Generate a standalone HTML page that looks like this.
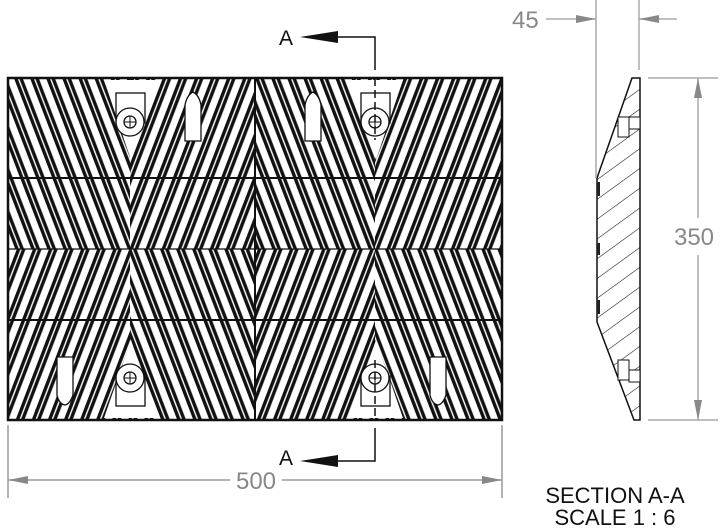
<!DOCTYPE html>
<html><head><style>body{margin:0;background:#fff}svg{display:block}</style></head><body>
<svg width="726" height="529" viewBox="0 0 726 529" xmlns="http://www.w3.org/2000/svg" font-family="Liberation Sans, sans-serif">
<defs>
<pattern id="s" width="15" height="40" patternUnits="userSpaceOnUse">
<rect x="0" y="0" width="3.4" height="40" fill="#111"/><rect x="4.8" y="0" width="3.4" height="40" fill="#111"/>
</pattern>
<pattern id="bs" href="#s" patternTransform="rotate(-21)"/>
<pattern id="fs" href="#s" patternTransform="rotate(21)"/>
<pattern id="h" width="16" height="16" patternUnits="userSpaceOnUse" patternTransform="rotate(-36)"><rect width="16" height="16" fill="#fff"/><line x1="0" y1="0" x2="16" y2="0" stroke="#222" stroke-width="1.2"/></pattern>
</defs>
<rect x="8" y="78" width="122" height="171" fill="url(#bs)"/>
<rect x="130" y="78" width="125" height="171" fill="url(#fs)"/>
<rect x="255" y="78" width="120" height="171" fill="url(#bs)"/>
<rect x="375" y="78" width="127" height="171" fill="url(#fs)"/>
<rect x="8" y="249" width="122" height="171" fill="url(#fs)"/>
<rect x="130" y="249" width="125" height="171" fill="url(#bs)"/>
<rect x="255" y="249" width="120" height="171" fill="url(#fs)"/>
<rect x="375" y="249" width="127" height="171" fill="url(#bs)"/>
<g fill="#fff">
<polygon points="104,80 158,80 131,160"/><polygon points="349,80 403,80 376,160"/>
<polygon points="104,418 158,418 131,340"/><polygon points="349,418 403,418 376,340"/>
</g>
<g stroke="#111" fill="none">
<rect x="8" y="78" width="494" height="342" stroke-width="2.5"/>
<line x1="8" y1="178" x2="502" y2="178" stroke-width="2"/>
<line x1="8" y1="249" x2="502" y2="249" stroke-width="1.2"/>
<line x1="8" y1="320" x2="502" y2="320" stroke-width="2"/>
<line x1="255" y1="78" x2="255" y2="420" stroke-width="2"/>
</g>
<g stroke="#111" fill="#fff" stroke-width="1.3">
<rect x="116" y="93" width="29" height="30"/><circle cx="130" cy="122" r="14"/><circle cx="130" cy="122" r="6"/>
<rect x="361" y="93" width="29" height="30"/><circle cx="375" cy="122" r="14"/><circle cx="375" cy="122" r="6"/>
<rect x="116" y="376" width="29" height="30"/><circle cx="130" cy="378" r="14"/><circle cx="130" cy="378" r="6"/>
<rect x="361" y="376" width="29" height="30"/><circle cx="375" cy="378" r="14"/><circle cx="375" cy="378" r="6"/>
<path d="M185,141 L185,105 Q187,95 193,92 Q199,95 201,105 L201,141 Z"/>
<path d="M305,141 L305,105 Q307,95 313,92 Q319,95 321,105 L321,141 Z"/>
<path d="M57,357 L73,357 L73,395 Q70,404 65,405 Q59,404 57,395 Z"/>
<path d="M430,357 L446,357 L446,395 Q443,404 438,405 Q432,404 430,395 Z"/>
</g>
<g stroke="#111" stroke-width="1"><line x1="130" y1="116" x2="130" y2="128"/><line x1="124" y1="122" x2="136" y2="122"/><line x1="375" y1="116" x2="375" y2="128"/><line x1="369" y1="122" x2="381" y2="122"/><line x1="130" y1="372" x2="130" y2="384"/><line x1="124" y1="378" x2="136" y2="378"/><line x1="375" y1="372" x2="375" y2="384"/><line x1="369" y1="378" x2="381" y2="378"/></g>
<g stroke="#111" stroke-width="1.5" fill="none">
<polyline points="330,37 375,37 375,70"/><line x1="375" y1="78" x2="375" y2="140" stroke-dasharray="8,4"/>
<polyline points="330,461 375,461 375,428"/><line x1="375" y1="360" x2="375" y2="420" stroke-dasharray="8,4"/>
</g>
<polygon points="300,37 338,31 338,43" fill="#111"/><polygon points="300,461 338,455 338,467" fill="#111"/>
<text x="279" y="45" font-size="21" fill="#111">A</text><text x="279" y="465" font-size="21" fill="#111">A</text>
<g stroke="#999" stroke-width="1.5"><line x1="8" y1="425" x2="8" y2="498"/><line x1="502" y1="425" x2="502" y2="498"/><line x1="8" y1="480" x2="230" y2="480"/><line x1="282" y1="480" x2="502" y2="480"/></g>
<polygon points="8,480 28,476 28,484" fill="#888"/><polygon points="502,480 482,476 482,484" fill="#888"/>
<text x="256" y="489" font-size="24" fill="#888" text-anchor="middle">500</text>
<polygon points="632,78 640,78 640,420 634,420 597,322 597,178" fill="url(#h)" stroke="#111" stroke-width="1.5"/>
<g fill="#222"><rect x="597" y="182" width="3" height="14"/><rect x="597" y="243" width="3" height="12"/><rect x="597" y="300" width="3" height="14"/></g>
<g stroke="#111" fill="#fff" stroke-width="1"><rect x="618" y="117" width="11" height="20"/><rect x="629" y="117" width="11" height="12"/><rect x="618" y="360" width="11" height="20"/><rect x="629" y="370" width="11" height="12"/></g>
<g stroke="#aaa" stroke-width="1.5"><line x1="596" y1="0" x2="596" y2="178"/><line x1="639" y1="0" x2="639" y2="70"/><line x1="546" y1="19" x2="596" y2="19"/><line x1="639" y1="19" x2="677" y2="19"/>
<line x1="648" y1="78" x2="718" y2="78"/><line x1="648" y1="420" x2="718" y2="420"/><line x1="698" y1="78" x2="698" y2="218"/><line x1="698" y1="255" x2="698" y2="420"/></g>
<polygon points="596,19 576,15 576,23" fill="#888"/><polygon points="639,19 659,15 659,23" fill="#888"/>
<polygon points="698,78 694,98 702,98" fill="#888"/><polygon points="698,420 694,400 702,400" fill="#888"/>
<text x="512" y="28" font-size="24" fill="#888">45</text>
<text x="694" y="245" font-size="24" fill="#888" text-anchor="middle">350</text>
<text x="615" y="503" font-size="22" fill="#111" text-anchor="middle">SECTION A-A</text>
<text x="615" y="525" font-size="22" fill="#111" text-anchor="middle">SCALE 1 : 6</text>
</svg>
</body></html>
